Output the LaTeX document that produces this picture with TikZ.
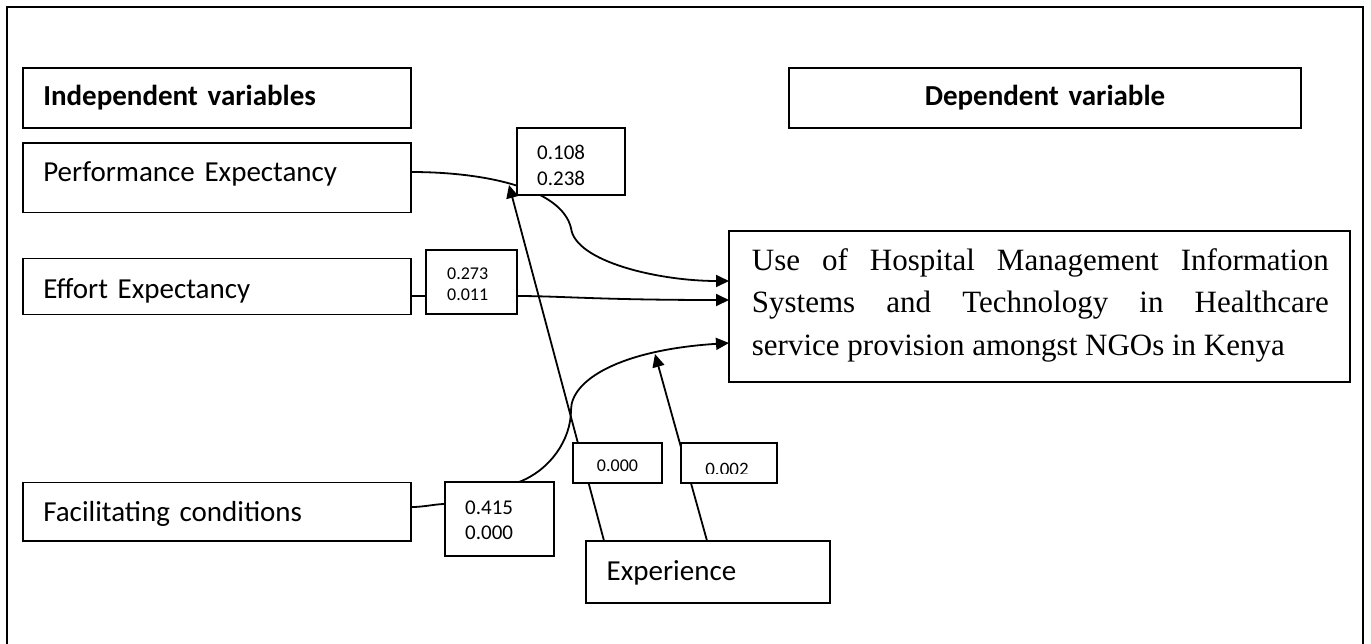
\documentclass[tikz,border=0pt]{standalone}
\usepackage{fontspec}
\setmainfont{Carlito}
\newfontfamily\serifmain{Liberation Serif}
\usetikzlibrary{arrows.meta}
\pgfdeclarelayer{bg}
\pgfsetlayers{bg,main}
\begin{document}
\begin{tikzpicture}[x=1pt,y=-1pt,
  box/.style={draw, line width=1.6pt, fill=white, inner sep=0pt, outer sep=0pt, anchor=north west},
  lbl/.style={font=\fontsize{29}{34}\selectfont, align=left},
  lblb/.style={font=\bfseries\fontsize{29}{34}\selectfont},
  numtxt/.style={inner sep=0pt, anchor=base west, text width=70pt, align=left},
  conn/.style={line width=1.8pt},
  arr/.style={conn, -{Triangle[length=13pt,width=12pt]}},
  frame/.style={line width=2pt}
]
\useasboundingbox (0,0) rectangle (1371,643);
\draw[frame] (7,650) -- (7,7) -- (1363,7) -- (1363,650);

% header boxes
\node[box, lblb, align=left, minimum width=388pt, minimum height=60pt, text width=346.8pt, inner xsep=20.6pt, text height=20pt, text depth=5.4pt] (indep) at (22.7,67.7) {Independent variables};
\node[box, lblb, align=center, minimum width=512pt, minimum height=60pt, text width=472pt, inner xsep=20pt, text height=20pt, text depth=5.4pt] (dep) at (789,67.7) {Dependent variable};

% independent variables
\node[box, lbl, minimum width=388pt, minimum height=69.6pt, text width=346.8pt, inner xsep=20.6pt, text height=16pt, text depth=7.6pt] (pe) at (22.7,142.7) {Performance Expectancy};
\node[box, lbl, minimum width=388pt, minimum height=56pt, text width=346.8pt, inner xsep=20.6pt, text height=27pt, text depth=3pt] (ee) at (22.7,258.3) {Effort Expectancy};
\node[box, lbl, minimum width=388pt, minimum height=58.5pt, text width=346.8pt, inner xsep=20.6pt, text height=24pt, text depth=4pt] (fc) at (22.7,482.5) {Facilitating conditions};

% moderator
\node[box, lbl, minimum width=244pt, minimum height=62pt, text width=202.6pt, inner xsep=20.7pt, text height=21pt, text depth=4.4pt] (exp) at (586,540.7) {Experience};

% dependent variable box
\node[box, minimum width=621pt, minimum height=151pt] (main) at (729,231) {};
\node[anchor=base west, inner sep=0pt, text width=577pt, align=justify, font=\serifmain\fontsize{31}{42.5}\selectfont] (maintext) at (751.7,270) {Use of Hospital Management Information\linebreak Systems and Technology in Healthcare\linebreak service provision amongst NGOs in Kenya};

% coefficient boxes
\node[box, minimum width=108pt, minimum height=67.3pt] (n108) at (517,127.7) {};
\node[numtxt, font=\fontsize{21}{25.7}\selectfont] (t108) at (537,159.3) {0.108\\0.238};
\node[box, minimum width=91pt, minimum height=64pt] (n273) at (426,250) {};
\node[numtxt, font=\fontsize{18}{21.4}\selectfont] (t273) at (447,279.3) {0.273\\0.011};
\node[box, minimum width=109pt, minimum height=74pt] (n415) at (445,482) {};
\node[numtxt, font=\fontsize{21}{25}\selectfont] (t415) at (465,514) {0.415\\0.000};
\node[box, minimum width=89pt, minimum height=40pt] (n000) at (573,443) {};
\node[inner sep=0pt, anchor=base, font=\fontsize{18}{21}\selectfont] (t000) at (617.5,471.7) {0.000};
\node[box, minimum width=96pt, minimum height=40pt] (n002) at (681,443) {};
\begin{scope}
  \clip (682,444) rectangle (776,473.5);
  \node[inner sep=0pt, anchor=base, font=\fontsize{19}{22}\selectfont] (t002) at (727,475.5) {0.002};
\end{scope}

\coordinate (t1) at (509,185);
\coordinate (t2) at (655,354);

\begin{pgfonlayer}{bg}
  % performance expectancy
  \draw[arr] ([yshift=5.5pt]pe.east) .. controls (490,172) and (562,190) .. (571,228)
             .. controls (575,262) and (660,281) .. ([yshift=25.5pt]main.west);
  % effort expectancy
  \draw[conn] ([yshift=-9.7pt]ee.east) -- ([yshift=-14pt]n273.west);
  \draw[arr] ([yshift=-14pt]n273.east) .. controls (560,296) and (600,300) .. ([yshift=6.5pt]main.west);
  % facilitating conditions
  \draw[conn] ([yshift=4.7pt]fc.east) .. controls (425,507) and (435,504) .. ([yshift=15pt]n415.west);
  \draw[arr] ([xshift=19.5pt]n415.north) .. controls (550,470) and (571,440) .. (571,410)
             .. controls (571,380) and (620,350) .. ([yshift=-36.5pt]main.west);
  % experience moderation
  \draw[arr] ([xshift=18pt]exp.north west) -- (t1);
  \draw[arr] ([xshift=121pt]exp.north west) -- (t2);
\end{pgfonlayer}
\end{tikzpicture}
\end{document}
